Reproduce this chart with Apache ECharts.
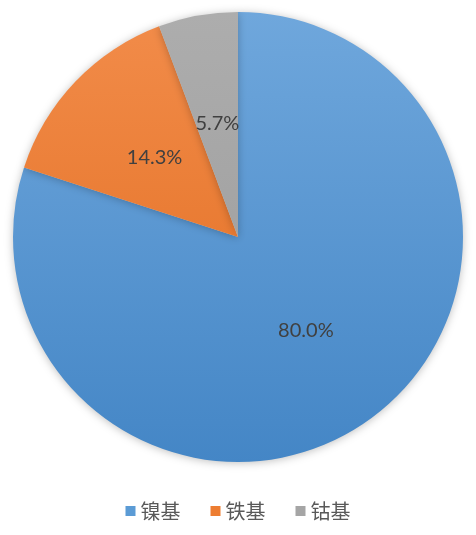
<!DOCTYPE html>
<html><head><meta charset="utf-8">
<script src="https://cdn.jsdelivr.net/npm/echarts@6/dist/echarts.min.js"></script>
<style>html,body{margin:0;padding:0;background:#fff}#c{width:476px;height:535px}</style>
</head><body><div id="c"></div>
<script>
const categories = ['镍基', '铁基', '钴基'];
const values = [80.0, 14.3, 5.7];
const chart = echarts.init(document.getElementById('c'), null, {renderer: 'canvas'});
function grad(top, bottom) {
  return {type: 'linear', x: 0, y: 12, x2: 0, y2: 463, global: true,
    colorStops: [{offset: 0, color: top}, {offset: 1, color: bottom}]};
}
const colors = [grad('#6fa7dc', '#4486c6'), grad('#f28c4a', '#e06a1c'), grad('#adadad', '#999999')];
const legendColors = ['#5b9bd5', '#ed7d31', '#a5a5a5'];
chart.setOption({
  animation: false,
  legend: {
    bottom: 9, left: 'center',
    icon: 'rect', itemWidth: 10, itemHeight: 10, itemGap: 30,
    textStyle: {fontSize: 20, color: '#595959', fontFamily: 'Noto Sans CJK SC'},
    data: categories.map((c, i) => ({name: c, itemStyle: {color: legendColors[i]}}))
  },
  series: [{
    type: 'pie',
    center: [238, 237],
    radius: [0, 225],
    startAngle: 90,
    clockwise: true,
    avoidLabelOverlap: false,
    label: {
      position: 'inside',
      formatter: p => p.value.toFixed(1) + '%',
      fontSize: 20, color: '#404040', fontFamily: 'Lato, Open Sans, sans-serif'
    },
    labelLine: {show: false},
    itemStyle: {borderWidth: 0, shadowBlur: 8, shadowColor: 'rgba(0,0,0,0.25)', shadowOffsetY: 1},
    emphasis: {disabled: true},
    data: categories.map((c, i) => ({name: c, value: values[i], itemStyle: {color: colors[i]}}))
  }]
});
</script></body></html>
